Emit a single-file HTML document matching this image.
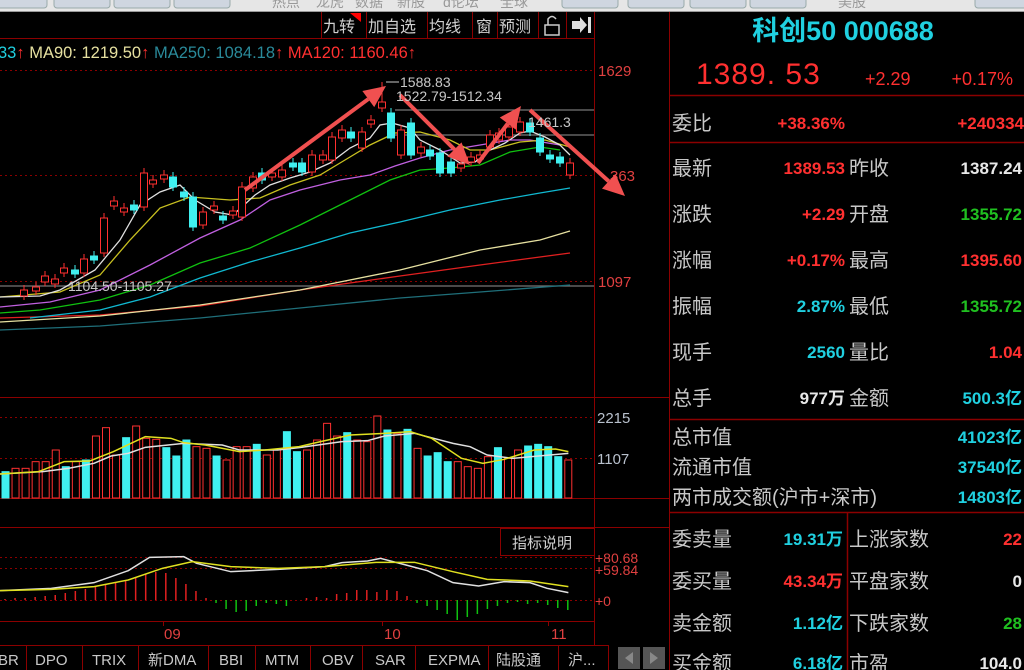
<!DOCTYPE html>
<html><head><meta charset="utf-8">
<style>
html,body{margin:0;padding:0;background:#000;width:1024px;height:670px;overflow:hidden}
svg{display:block}
text{font-family:"Liberation Sans","Noto Sans CJK SC",sans-serif}
</style></head>
<body>
<svg id="s" width="1024" height="670" viewBox="0 0 1024 670" xmlns="http://www.w3.org/2000/svg">
<rect width="1024" height="670" fill="#000"/>
<rect x="0" y="0" width="1024" height="11" fill="#e6e6e6"/>
<rect x="0" y="11" width="1024" height="1" fill="#999"/>
<g fill="#cfd6e0" stroke="#9aa" stroke-width="1">
<rect x="-5" y="-6" width="52" height="14" rx="3"/><rect x="54" y="-6" width="56" height="14" rx="3"/>
<rect x="114" y="-6" width="56" height="14" rx="3"/><rect x="174" y="-6" width="56" height="14" rx="3"/>
<rect x="562" y="-6" width="56" height="14" rx="3"/><rect x="628" y="-6" width="56" height="14" rx="3"/>
<rect x="690" y="-6" width="56" height="14" rx="3"/><rect x="750" y="-6" width="56" height="14" rx="3"/>
<rect x="975" y="-6" width="60" height="14" rx="3"/>
</g>
<g fill="#999" font-size="14"><text x="272" y="7">热点</text><text x="316" y="7">龙虎</text><text x="355" y="7">数据</text><text x="397" y="7">新股</text><text x="443" y="7">d论坛</text><text x="500" y="7">全球</text><text x="838" y="7">美股</text></g>

<g stroke="#8b0000" stroke-width="1" fill="none">
<line x1="0" y1="38.5" x2="594" y2="38.5"/>
<line x1="321.5" y1="12" x2="321.5" y2="38"/><line x1="366.5" y1="12" x2="366.5" y2="38"/>
<line x1="427.5" y1="12" x2="427.5" y2="38"/><line x1="472.5" y1="12" x2="472.5" y2="38"/>
<line x1="497.5" y1="12" x2="497.5" y2="38"/><line x1="538.5" y1="12" x2="538.5" y2="38"/>
<line x1="566.5" y1="12" x2="566.5" y2="38"/>
</g>
<polygon points="350,13 361,13 361,22" fill="#f00"/>
<g fill="#d0d0d0" font-size="16">
<text x="323" y="32">九转</text><text x="368" y="32">加自选</text><text x="429" y="32">均线</text>
<text x="476" y="32">窗</text><text x="499" y="32">预测</text>
</g>
<rect x="545" y="25" width="14" height="10" fill="none" stroke="#ccc" stroke-width="1.5"/>
<path d="M548 25 V19 Q552 14 556 19" fill="none" stroke="#ccc" stroke-width="1.5"/>
<polygon points="572,21 580,21 580,17 587,25 580,33 580,29 572,29" fill="#ddd"/><rect x="588" y="17" width="3" height="16" fill="#ddd"/>

<text y="58" font-size="16.5"><tspan x="-2" fill="#20d0e0">33</tspan><tspan fill="#ff3030">↑</tspan><tspan fill="#e6e0a0"> MA90: 1219.50</tspan><tspan fill="#ff3030">↑</tspan><tspan fill="#2a8a9a"> MA250: 1084.18</tspan><tspan fill="#ff3030">↑</tspan><tspan fill="#ff3030"> MA120: 1160.46↑</tspan></text>

<g stroke="#8b0000" stroke-width="1">
<line x1="594.5" y1="12" x2="594.5" y2="645"/>
<line x1="669.5" y1="12" x2="669.5" y2="670"/>
<line x1="0" y1="397.5" x2="669" y2="397.5"/>
<line x1="0" y1="498.5" x2="669" y2="498.5"/>
<line x1="0" y1="527.5" x2="669" y2="527.5"/>
<line x1="0" y1="621.5" x2="594" y2="621.5"/>
<line x1="163.5" y1="621" x2="163.5" y2="626"/><line x1="382.5" y1="621" x2="382.5" y2="626"/><line x1="548.5" y1="621" x2="548.5" y2="626"/>
</g>
<g stroke="#8b0000" stroke-width="1" stroke-dasharray="2,3">
<line x1="0" y1="70.5" x2="594" y2="70.5"/><line x1="0" y1="175.5" x2="594" y2="175.5"/><line x1="0" y1="281.5" x2="594" y2="281.5"/>
<line x1="0" y1="417.5" x2="594" y2="417.5"/><line x1="0" y1="458.5" x2="594" y2="458.5"/>
<line x1="0" y1="557.5" x2="594" y2="557.5"/><line x1="0" y1="568.5" x2="594" y2="568.5"/><line x1="0" y1="600.5" x2="594" y2="600.5"/>
</g>
<g fill="#e04040" font-size="15"><text x="598" y="76">1629</text><text x="610" y="181">363</text><text x="598" y="287">1097</text></g>
<g fill="#b8c0cc" font-size="15"><text x="597" y="423">2215</text><text x="597" y="464">1107</text></g>
<g fill="#e04040" font-size="14"><text x="595" y="563">+80.68</text><text x="595" y="575">+59.84</text><text x="595" y="606">+0</text></g>
<g fill="#e04040" font-size="15"><text x="164" y="639">09</text><text x="384" y="639">10</text><text x="551" y="639">11</text></g>

<g stroke="#777" stroke-width="1.2">
<line x1="0" y1="286" x2="594" y2="286"/>
<line x1="395" y1="110" x2="594" y2="110"/><line x1="395" y1="135" x2="594" y2="135"/>
</g>
<g id="series"></g>
<g fill="#c8c8c8" font-size="14">
<text x="68" y="291">1104.50-1105.27</text>
<text x="400" y="87">1588.83</text>
<text x="396" y="101">1522.79-1512.34</text>
<text x="528" y="127">1461.3</text>
</g>
<line x1="386" y1="82" x2="399" y2="82" stroke="#c8c8c8"/>

<rect x="500.5" y="528.5" width="94" height="27" fill="#000" stroke="#8b0000"/>
<text x="512" y="548" fill="#d0d0d0" font-size="15">指标说明</text>

<rect x="0" y="645" width="610" height="25" fill="#000"/>
<g stroke="#8b0000" fill="none"><rect x="-1.5" y="645.5" width="610" height="26"/>
<line x1="26.5" y1="645" x2="26.5" y2="670"/><line x1="82.5" y1="645" x2="82.5" y2="670"/><line x1="138.5" y1="645" x2="138.5" y2="670"/><line x1="208.5" y1="645" x2="208.5" y2="670"/><line x1="255.5" y1="645" x2="255.5" y2="670"/><line x1="310.5" y1="645" x2="310.5" y2="670"/><line x1="362.5" y1="645" x2="362.5" y2="670"/><line x1="415.5" y1="645" x2="415.5" y2="670"/><line x1="488.5" y1="645" x2="488.5" y2="670"/><line x1="558.5" y1="645" x2="558.5" y2="670"/></g>
<g fill="#c8c8c8" font-size="15">
<text x="-2" y="665">BR</text><text x="35" y="665">DPO</text><text x="92" y="665">TRIX</text><text x="148" y="665">新DMA</text><text x="219" y="665">BBI</text><text x="265" y="665">MTM</text><text x="322" y="665">OBV</text><text x="375" y="665">SAR</text><text x="428" y="665">EXPMA</text><text x="496" y="665">陆股通</text><text x="568" y="665">沪...</text>
</g>
<rect x="618" y="647" width="22" height="22" fill="#555"/><rect x="643" y="647" width="22" height="22" fill="#555"/>
<polygon points="633,652 633,664 625,658" fill="#888"/><polygon points="650,652 650,664 658,658" fill="#888"/>

<g stroke="#8b0000" stroke-width="1.5">
<line x1="669" y1="95.5" x2="1024" y2="95.5"/>
<line x1="669" y1="142.5" x2="1024" y2="142.5"/>
<line x1="669" y1="419.5" x2="1024" y2="419.5"/>
<line x1="669" y1="512.5" x2="1024" y2="512.5"/>
<line x1="847.5" y1="512" x2="847.5" y2="670"/>
</g>
<text x="843" y="40" fill="#20d0e0" font-size="27" font-weight="bold" text-anchor="middle" font-family="'Liberation Serif','Noto Serif CJK SC',serif">科创50 000688</text>
<text x="696" y="84" fill="#ff3030" font-size="30" font-family="'Liberation Serif',serif" letter-spacing="1">1389. 53</text>
<text x="865" y="85" fill="#ff3030" font-size="18">+2.29</text>
<text x="1013" y="85" fill="#ff3030" font-size="18" text-anchor="end">+0.17%</text>
<g font-size="20" fill="#c8c8c8">
<text x="672" y="130">委比</text>
<text x="672" y="175">最新</text><text x="672" y="221">涨跌</text><text x="672" y="267">涨幅</text><text x="672" y="313">振幅</text><text x="672" y="359">现手</text><text x="672" y="405">总手</text>
<text x="849" y="175">昨收</text><text x="849" y="221">开盘</text><text x="849" y="267">最高</text><text x="849" y="313">最低</text><text x="849" y="359">量比</text><text x="849" y="405">金额</text>
<text x="672" y="444">总市值</text><text x="672" y="474">流通市值</text><text x="672" y="504">两市成交额(沪市+深市)</text>
<text x="672" y="546">委卖量</text><text x="672" y="588">委买量</text><text x="672" y="630">卖金额</text><text x="672" y="670">买金额</text>
<text x="849" y="546">上涨家数</text><text x="849" y="588">平盘家数</text><text x="849" y="630">下跌家数</text><text x="849" y="670">市盈</text>
</g>
<g font-size="17" font-weight="bold" text-anchor="end">
<text x="845" y="129" fill="#ff3030">+38.36%</text><text x="1024" y="129" fill="#ff3030">+240334</text>
<text x="845" y="174" fill="#ff3030">1389.53</text><text x="1022" y="174" fill="#e8e8e8">1387.24</text>
<text x="845" y="220" fill="#ff3030">+2.29</text><text x="1022" y="220" fill="#20c020">1355.72</text>
<text x="845" y="266" fill="#ff3030">+0.17%</text><text x="1022" y="266" fill="#ff3030">1395.60</text>
<text x="845" y="312" fill="#20d0e0">2.87%</text><text x="1022" y="312" fill="#20c020">1355.72</text>
<text x="845" y="358" fill="#20d0e0">2560</text><text x="1022" y="358" fill="#ff3030">1.04</text>
<text x="845" y="404" fill="#e8e8e8">977万</text><text x="1022" y="404" fill="#20d0e0">500.3亿</text>
<text x="1022" y="443" fill="#20d0e0">41023亿</text><text x="1022" y="473" fill="#20d0e0">37540亿</text><text x="1022" y="503" fill="#20d0e0">14803亿</text>
<text x="843" y="545" fill="#20d0e0">19.31万</text><text x="843" y="587" fill="#ff3030">43.34万</text><text x="843" y="629" fill="#20d0e0">1.12亿</text><text x="843" y="669" fill="#20d0e0">6.18亿</text>
<text x="1022" y="545" fill="#ff3030">22</text><text x="1022" y="587" fill="#e8e8e8">0</text><text x="1022" y="629" fill="#20c020">28</text><text x="1022" y="669" fill="#e8e8e8">104.0</text>
</g>
</svg>
<script>
(function(){
var NS="http://www.w3.org/2000/svg",g=document.getElementById("series");
function el(t,a){var e=document.createElementNS(NS,t);for(var k in a)e.setAttribute(k,a[k]);g.appendChild(e);return e;}
function pl(pts,c,w){el("polyline",{points:pts.map(function(p){return p.join(",")}).join(" "),fill:"none",stroke:c,"stroke-width":w||1.3});}
pl([[0,330],[100,326],[200,318],[300,308],[400,298],[480,292],[570,285]],"#1f6f7a");
pl([[0,318],[100,315],[200,306],[300,290],[400,276],[480,265],[570,253]],"#e02020");
pl([[0,322],[100,316],[200,305],[300,290],[400,270],[480,250],[540,240],[570,231]],"#e6e0a0");
pl([[30,318],[100,310],[150,297],[200,278],[250,262],[300,248],[350,233],[400,222],[450,210],[500,200],[540,193],[570,188]],"#10b8d0");
pl([[0,313],[40,310],[100,300],[150,285],[200,263],[250,248],[300,225],[350,200],[390,180],[420,170],[450,168],[480,165],[510,152],[540,147],[560,150]],"#10c010");
pl([[0,307],[50,302],[100,290],[150,265],[200,238],[240,220],[270,200],[300,190],[340,180],[370,175],[395,166],[420,158],[450,150],[480,145],[510,140],[530,140],[560,145]],"#c060e0");
pl([[0,297],[60,292],[100,275],[130,240],[160,208],[190,197],[230,200],[260,198],[290,185],[320,175],[345,160],[370,145],[395,133],[420,132],[450,140],[470,150],[490,150],[520,142],[545,140],[570,147]],"#c8c020");
pl([[0,297],[40,296],[60,290],[95,270],[120,240],[140,205],[160,192],[180,185],[195,200],[215,212],[233,215],[255,195],[270,185],[290,178],[310,172],[330,163],[350,148],[370,138],[380,125],[392,123],[410,128],[420,140],[440,150],[460,163],[475,162],[490,150],[505,143],[520,133],[530,131],[545,137],[560,145],[570,155]],"#e0e0e0");
var C=[[24,290,296,1],[36,287,291,1],[45,276,282,1],[55,279,284,1],[64,268,273,1],[75,270,274,0],[84,259,273,1],[94,256,260,0],[104,218,253,1],[114,201,206,1],[124,208,212,1],[134,205,210,0],[144,173,207,1],[153,180,184,1],[164,175,179,1],[173,177,187,0],[184,192,197,0],[193,197,227,0],[203,212,225,1],[214,206,210,1],[223,216,220,0],[233,211,215,1],[242,187,217,1],[253,177,188,1],[262,173,180,0],[272,173,177,1],[282,170,177,1],[293,163,167,0],[302,163,172,0],[312,155,172,1],[323,155,160,1],[332,137,160,1],[342,130,138,1],[351,132,138,0],[362,132,148,1],[371,120,124,1],[382,102,108,1],[391,113,138,0],[401,130,155,1],[411,123,155,0],[421,147,153,1],[430,150,156,0],[440,153,173,0],[451,162,173,0],[461,164,168,1],[471,157,162,1],[480,155,159,1],[490,135,147,1],[499,133,140,1],[509,127,137,1],[520,122,132,1],[530,123,132,0],[540,138,152,0],[550,155,159,0],[560,157,163,0],[570,163,175,1]];
C.forEach(function(c){var col=c[3]?"#ff3030":"#40f0f0";
 el("line",{x1:c[0],y1:c[1]-5,x2:c[0],y2:c[2]+4,stroke:col,"stroke-width":1});
 el("rect",{x:c[0]-3.5,y:c[1],width:7,height:Math.max(2,c[2]-c[1]),fill:c[3]?"#000":col,stroke:col,"stroke-width":1});});
el("line",{x1:382,y1:82,x2:382,y2:102,stroke:"#ff3030"});
function arrow(x1,y1,x2,y2){var dx=x2-x1,dy=y2-y1,L=Math.sqrt(dx*dx+dy*dy),ux=dx/L,uy=dy/L,px=-uy,py=ux,hl=22,hw=10;
 var bx=x2-ux*hl,by=y2-uy*hl;
 el("line",{x1:x1,y1:y1,x2:bx,y2:by,stroke:"#f05050","stroke-width":4});
 el("polygon",{points:[x2,y2,bx+px*hw,by+py*hw,bx-px*hw,by-py*hw].join(","),fill:"#f05050"});}
arrow(245,190,386,86);arrow(400,95,470,165);arrow(478,163,521,106);arrow(530,110,625,196);
var V=[215,205,205,185,185,150,200,185,180,108,83,165,113,78,115,118,143,168,120,140,145,168,180,140,140,133,165,150,95,155,150,120,70,108,98,120,125,48,90,100,88,145,168,158,185,185,200,205,170,143,175,150,138,133,140,170,180];
var cyanIdx=[0,6,8,12,16,17,18,21,25,28,29,34,38,40,42,43,44,49,52,53,54,55];
V.forEach(function(v,i){var x=2+i*10.05,y=400+v/3,isC=cyanIdx.indexOf(i)>=0;
 el("rect",{x:x,y:y,width:7,height:498-y,fill:isC?"#40f0f0":"#000",stroke:isC?"#40f0f0":"#ff3030","stroke-width":1});});
function sc(a){return a.map(function(p){return [p[0]/2.34,400+p[1]/3]});}
pl(sc([[0,222],[100,215],[160,205],[220,190],[260,168],[300,160],[340,142],[430,130],[520,135],[560,150],[650,150],[700,143],[800,125],[860,122],[900,108],[970,100],[1060,130],[1100,140],[1140,165],[1200,175],[1260,168],[1330,160]]),"#e0e0e0",1.5);
pl(sc([[0,222],[90,215],[150,185],[210,183],[265,155],[340,110],[400,115],[430,128],[480,135],[560,155],[620,150],[700,140],[750,125],[820,105],[900,100],[960,95],[1010,115],[1080,175],[1130,190],[1180,178],[1250,150],[1300,147],[1330,155]]),"#e0e020",1.5);
var MR=[599,598,598,597,596,595,593,591,589,587,584,582,580,578,574,572,573,578,584,591,598,603,609,612,611,606,603,604,606,600,598,597,598,594,593,590,590,592,590,591,596,603,606,610,614,620,617,614,609,606,603,602,604,603,605,608,610];
MR.forEach(function(y,i){var x=5+i*10.05;if(Math.abs(y-600)<1)return;
 el("line",{x1:x,y1:600,x2:x,y2:y,stroke:y<600?"#e02020":"#10c010","stroke-width":1.5});});
pl(sc([[0,572],[120,565],[220,548],[300,512],[350,472],[430,470],[460,490],[540,515],[650,508],[760,500],[800,488],[860,483],[890,475],[950,495],[1000,512],[1060,548],[1120,558],[1180,545],[1240,548],[1280,565],[1330,578]]),"#e0e0e0",1.5);
pl(sc([[0,572],[120,568],[220,560],[300,540],[380,505],[450,485],[540,500],[650,505],[760,500],[880,487],[970,487],[1060,515],[1140,538],[1240,543],[1330,560]]),"#e0e020",1.5);
})();
</script>
</body></html>
